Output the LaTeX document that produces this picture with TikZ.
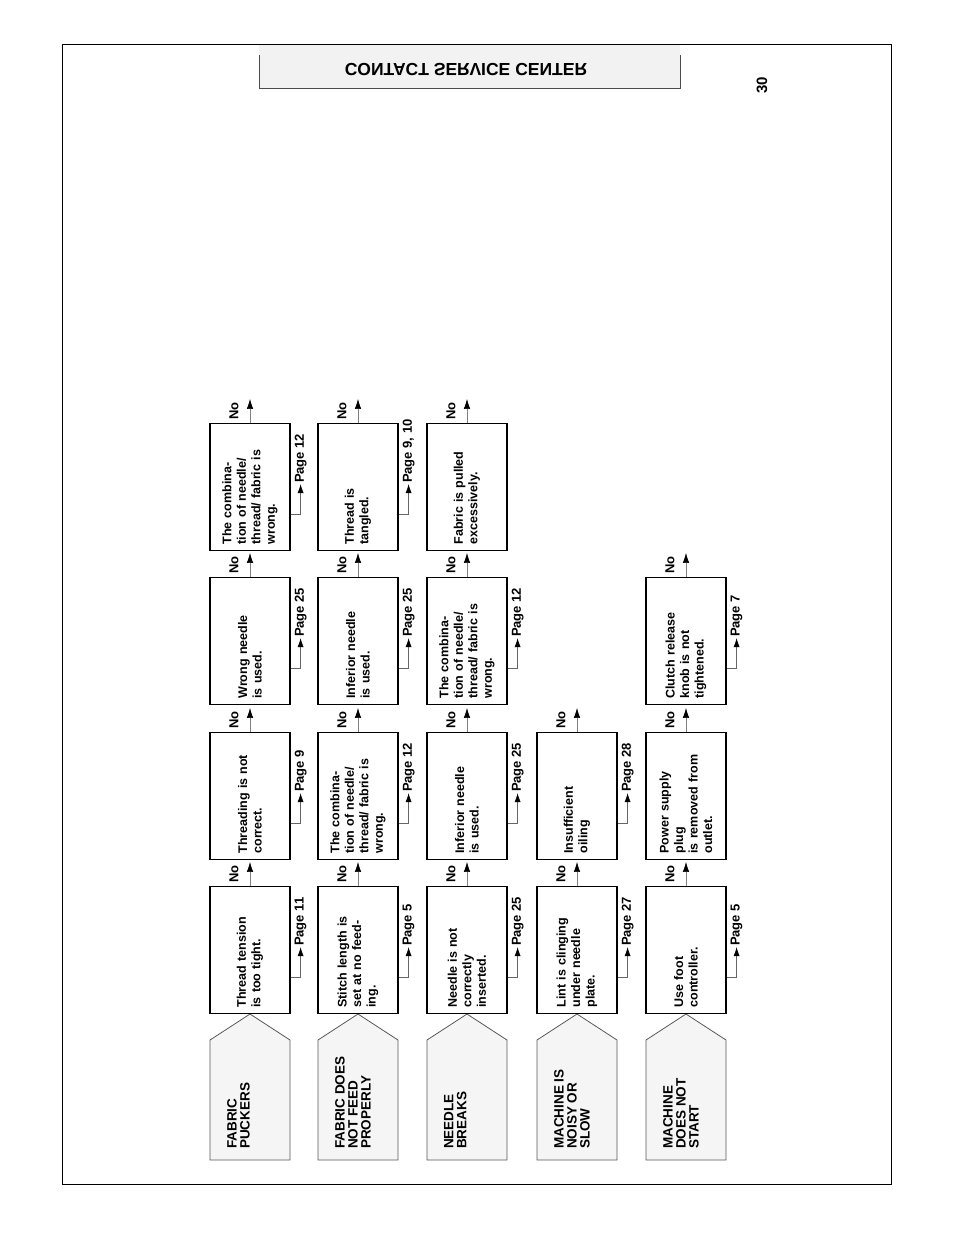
\documentclass[tikz,border=0pt]{standalone}
\usepackage{fontspec}
\setmainfont{Liberation Sans}
\usetikzlibrary{arrows.meta,calc}

\tikzset{
  chartbox/.style={draw,line width=1.2pt,rotate=90,minimum width=127pt,minimum height=80pt,
    text width=115pt,align=left,inner sep=0pt,font=\fontsize{12.5}{14.5}\selectfont\bfseries},
  noline/.style={draw=gray,line width=.6pt,-{Latex[length=10pt,width=6.5pt,black]}},
  pageline/.style={draw=gray!80!black,line width=.6pt,-{Latex[length=9pt,width=6pt,black]}},
  smalltxt/.style={rotate=90,inner sep=1pt,font=\fontsize{13}{14}\selectfont\bfseries},
  tagtxt/.style={rotate=90,anchor=north west,align=left,inner sep=0pt,
    font=\fontsize{13.5}{13}\selectfont\bfseries}
}

\begin{document}
\begin{tikzpicture}[x=1pt,y=-1pt]
  \useasboundingbox (0,0) rectangle (954,1235);
  \fill[white] (0,0) rectangle (954,1235);

  % page frame and header
  \fill[gray!10] (259,45) rectangle (680,88);
  \draw[line width=.8pt] (62,44) rectangle (891,1184);
  \draw[gray!60!black,line width=.8pt] (259,55) -- (259,88) -- (680,88) -- (680,55);
  \node[yscale=-1,font=\fontsize{17.5}{18}\selectfont\bfseries] (head) at (466,70) {CONTACT SERVICE CENTER};
  \node[rotate=90,font=\fontsize{15}{15}\selectfont\bfseries] (pnum) at (762,85) {30};

  % problem tags
  \foreach \name/\x/\txt in {t1/250/{FABRIC\\PUCKERS},t2/358/{FABRIC DOES\\NOT FEED\\PROPERLY},
      t3/467/{NEEDLE\\BREAKS},t4/577/{MACHINE IS\\NOISY OR\\SLOW},t5/686/{MACHINE\\DOES NOT\\START}}{
    \filldraw[fill=gray!8,draw=gray!70!black,line width=.8pt]
      (\x-40,1160) -- (\x-40,1040) -- (\x,1014) -- (\x+40,1040) -- (\x+40,1160) -- cycle;
    \node[tagtxt] (\name) at (\x-23,1149) {\txt};
  }

  % check boxes
  \foreach \name/\x/\y/\txt/\pg in {
      b11/250/950/{Thread tension\\is too tight.}/{Page 11},
      b12/250/796/{Threading is not\\correct.}/{Page 9},
      b13/250/641/{Wrong needle\\is used.}/{Page 25},
      b14/250/487/{The combina-\\tion of needle/\\thread/ fabric is\\wrong.}/{Page 12},
      b21/358/950/{Stitch length is\\set at no feed-\\ing.}/{Page 5},
      b22/358/796/{The combina-\\tion of needle/\\thread/ fabric is\\wrong.}/{Page 12},
      b23/358/641/{Inferior needle\\is used.}/{Page 25},
      b24/358/487/{Thread is\\tangled.}/{Page 9, 10},
      b31/467/950/{Needle is not\\correctly\\inserted.}/{Page 25},
      b32/467/796/{Inferior needle\\is used.}/{Page 25},
      b33/467/641/{The combina-\\tion of needle/\\thread/ fabric is\\wrong.}/{Page 12},
      b34/467/487/{Fabric is pulled\\excessively.}/{},
      b41/577/950/{Lint is clinging\\under needle\\plate.}/{Page 27},
      b42/577/796/{Insufficient\\oiling}/{Page 28},
      b51/686/950/{Use foot\\controller.}/{Page 5},
      b52/686/796/{Power supply\\plug\\is removed from\\outlet.}/{},
      b53/686/641/{Clutch release\\knob is not\\tightened.}/{Page 7}}{
    \node[chartbox] (\name) at (\x,\y) {\txt};
    \draw[noline] (\name.east) -- ++(0,-24) coordinate (\name-no);
    \node[smalltxt] (\name-nolbl) at ($(\name.east)+(-16,-12)$) {No};
    \if\relax\detokenize\expandafter{\pg}\relax\else
      \draw[pageline] ($(\name.south west)+(0,-37)$) -- ++(10,0) -- ++(0,-30) coordinate (\name-pg);
      \node[smalltxt,anchor=west] (\name-pglbl) at (\name-pg) {\pg};
    \fi
  }
\end{tikzpicture}
\end{document}
